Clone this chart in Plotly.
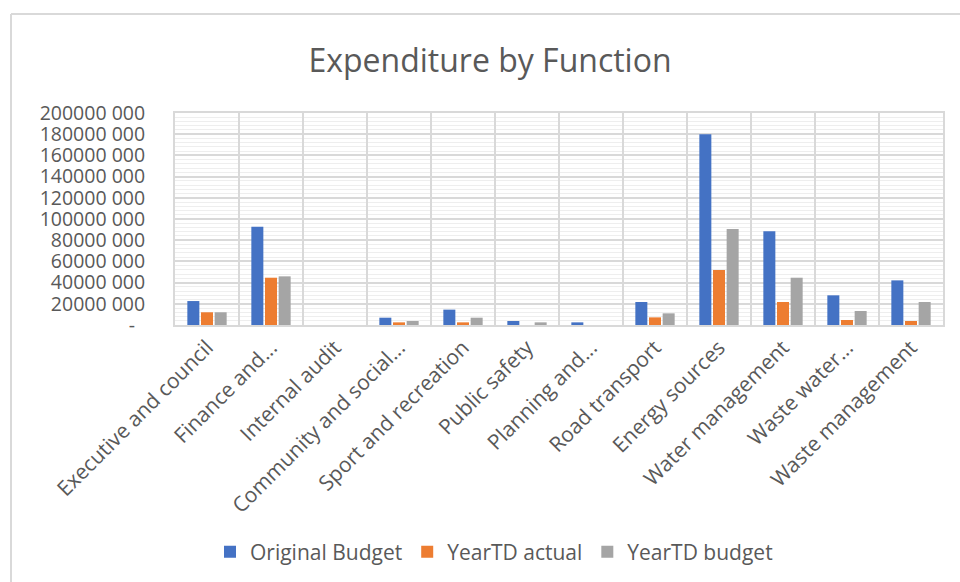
import plotly.graph_objects as go

categories = ["Executive and council", "Finance and...", "Internal audit",
              "Community and social...", "Sport and recreation", "Public safety",
              "Planning and...", "Road transport", "Energy sources",
              "Water management", "Waste water...", "Waste management"]
original_budget = [22600000, 92700000, 0, 6900000, 14500000, 3800000,
                   2500000, 21700000, 179900000, 88400000, 28000000, 42100000]
yeartd_actual = [12000000, 44600000, 0, 2500000, 2500000, 0,
                 0, 7200000, 51900000, 21700000, 4700000, 3800000]
yeartd_budget = [12000000, 45900000, 0, 3800000, 6900000, 2500000,
                 0, 11000000, 90600000, 44600000, 13200000, 21700000]
series_names = ["Original Budget", "YearTD actual", "YearTD budget"]
colors = ["#4472C4", "#ED7D31", "#A5A5A5"]
tick_vals = [0, 20000000, 40000000, 60000000, 80000000, 100000000,
             120000000, 140000000, 160000000, 180000000, 200000000]
tick_text = ["-\u00a0\u00a0", "20000 000", "40000 000", "60000 000", "80000 000",
             "100000 000", "120000 000", "140000 000", "160000 000",
             "180000 000", "200000 000"]

FONT = "Open Sans"
TXT = "#595959"

fig = go.Figure()
for name, vals, c in zip(series_names, [original_budget, yeartd_actual, yeartd_budget], colors):
    fig.add_trace(go.Bar(x=categories, y=vals, name=name, marker_color=c,
                         marker_line_width=0))

L, R, T, B = 175, 943, 113, 325
W, H = 960, 582
pw, ph = R - L, B - T

def px_x(x):
    return (x - L) / pw

def px_y(y):
    return (B - y) / ph

fig.update_layout(
    width=W, height=H,
    margin=dict(l=L, r=W - R, t=T, b=H - B, autoexpand=False),
    paper_bgcolor="white", plot_bgcolor="white",
    font=dict(family=FONT, color=TXT, size=20),
    title=dict(text="Expenditure by Function", x=490 / W, xanchor="center",
               y=1 - 61 / H, yanchor="middle", yref="container",
               font=dict(size=32, color=TXT, family=FONT)),
    barmode="group", bargap=0.36, bargroupgap=0.12,
    showlegend=True,
    legend=dict(orientation="h", x=px_x(494), xanchor="center", y=px_y(552),
                yanchor="middle", font=dict(size=21, color=TXT, family=FONT),
                bgcolor="rgba(0,0,0,0)"),
    xaxis=dict(type="category", tickangle=-45, tickson="boundaries",
               showgrid=True, gridcolor="#d9d9d9", gridwidth=2,
               ticks="", showline=True, linecolor="#d9d9d9", linewidth=2, mirror=True,
               tickfont=dict(size=21, color=TXT, family=FONT)),
    yaxis=dict(range=[0, 200000000], tickvals=tick_vals, ticktext=tick_text,
               showgrid=True, gridcolor="#d9d9d9", gridwidth=2,
               minor=dict(dtick=4000000, showgrid=True, gridcolor="#eeeeee", gridwidth=1),
               showline=True, linecolor="#d9d9d9", linewidth=2, mirror=True,
               zeroline=False, ticks="", ticklabelstandoff=24,
               tickfont=dict(size=19.5, color=TXT, family=FONT)),
)

# outer chart frame (top and left edges visible)
fig.add_shape(type="line", xref="paper", yref="paper",
              x0=px_x(11), x1=px_x(965), y0=px_y(14), y1=px_y(14),
              line=dict(color="#d9d9d9", width=2))
fig.add_shape(type="line", xref="paper", yref="paper",
              x0=px_x(11), x1=px_x(11), y0=px_y(14), y1=px_y(590),
              line=dict(color="#d9d9d9", width=2))

fig.write_html("out.html")
